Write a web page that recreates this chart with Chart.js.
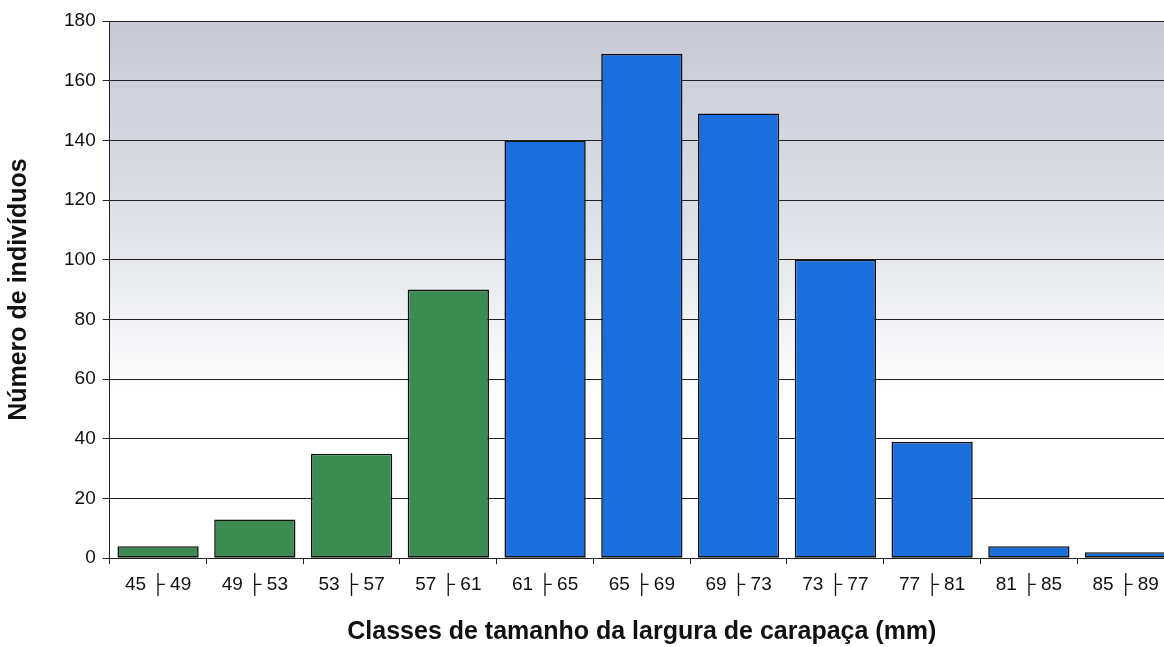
<!DOCTYPE html>
<html>
<head>
<meta charset="utf-8">
<script src="https://cdn.jsdelivr.net/npm/chart.js@4.4.0/dist/chart.umd.min.js"></script>
<style>
  html, body { margin: 0; padding: 0; background: #fff; overflow: hidden; }
  #wrap { width: 1174px; height: 647px; }
</style>
</head>
<body>
<div id="wrap"><canvas id="histChart" width="1174" height="647"></canvas></div>
<script>
// Size classes (mm) and counts
const classes = ['45 ├ 49', '49 ├ 53', '53 ├ 57', '57 ├ 61', '61 ├ 65', '65 ├ 69',
                 '69 ├ 73', '73 ├ 77', '77 ├ 81', '81 ├ 85', '85 ├ 89'];
const counts = [4, 13, 35, 90, 140, 169, 149, 100, 39, 4, 2];
const juvenile = [true, true, true, true, false, false, false, false, false, false, false];
const yTicks = [0, 20, 40, 60, 80, 100, 120, 140, 160, 180];

const GREEN = '#3b8b52';
const BLUE = '#1b6fdc';

// grey-to-white wash behind the bars
const plotBackground = {
    id: 'plotBackground',
    beforeDraw(chart) {
        const { ctx, chartArea: a } = chart;
        const g = ctx.createLinearGradient(0, a.top, 0, a.bottom);
        g.addColorStop(0, '#c6c8d5');
        g.addColorStop(0.35, '#dddfe6');
        g.addColorStop(0.70, '#ffffff');
        g.addColorStop(1, '#ffffff');
        ctx.save();
        ctx.fillStyle = g;
        ctx.fillRect(a.left, a.top, a.right - a.left, a.bottom - a.top);
        ctx.restore();
    }
};

const family = 'Arial, "Liberation Sans", sans-serif';

new Chart(document.getElementById('histChart'), {
    type: 'bar',
    data: {
        labels: classes,
        datasets: [{
            data: counts,
            backgroundColor: juvenile.map(j => j ? GREEN : BLUE),
            borderColor: '#111',
            borderWidth: 1.6,
            borderSkipped: false,
            barPercentage: 0.84,
            categoryPercentage: 1.0
        }]
    },
    options: {
        responsive: false,
        animation: false,
        layout: { padding: { top: 21, left: 4, right: 0, bottom: 0 } },
        plugins: {
            legend: { display: false },
            tooltip: { enabled: false }
        },
        scales: {
            x: {
                grid: { drawOnChartArea: false, color: '#222', tickLength: 6, offset: true },
                border: { color: '#222', width: 1 },
                ticks: { color: '#111', font: { family, size: 19 }, padding: 9, maxRotation: 0 },
                title: {
                    display: true,
                    text: 'Classes de tamanho da largura de carapaça (mm)',
                    color: '#111',
                    font: { family, size: 25, weight: 'bold' },
                    padding: { top: 12, bottom: 0 }
                }
            },
            y: {
                min: 0,
                max: 180,
                afterBuildTicks(axis) { axis.ticks = yTicks.map(v => ({ value: v })); },
                grid: { color: '#222', lineWidth: 1, tickLength: 7 },
                border: { color: '#222', width: 1 },
                ticks: { color: '#111', font: { family, size: 19 }, padding: 7 },
                title: {
                    display: true,
                    text: 'Número de indivíduos',
                    color: '#111',
                    font: { family, size: 25, weight: 'bold' },
                    padding: { top: 0, bottom: 23 }
                }
            }
        }
    },
    plugins: [plotBackground]
});
</script>
</body>
</html>
